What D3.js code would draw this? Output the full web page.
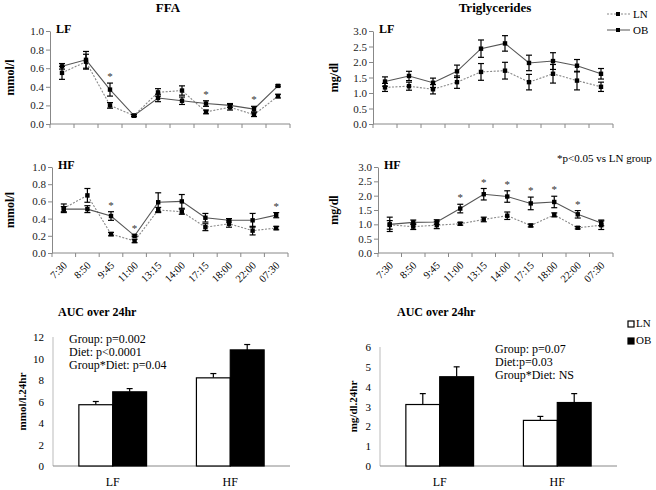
<!DOCTYPE html>
<html>
<head>
<meta charset="utf-8">
<script src="https://cdn.jsdelivr.net/npm/d3@7"></script>
<style>
  body { margin: 0; background: #fff; }
  svg { font-family: "Liberation Serif", "Times New Roman", serif; }
  .axis path, .axis line { stroke: #888; }
</style>
</head>
<body>
<svg width="656" height="490"></svg>
<script>
var svg = d3.select("svg");

// time points
var times = ["7:30", "8:50", "9:45", "11:00", "13:15", "14:00", "17:15", "18:00", "22:00", "07:30"];

// FFA, low fat diet
var ffaLF_OB = [0.62, 0.69, 0.37, 0.09, 0.28, 0.25, 0.22, 0.20, 0.16, 0.41];
var ffaLF_OBerr = [0.03, 0.09, 0.07, 0.01, 0.04, 0.04, 0.03, 0.02, 0.03, 0.01];
var ffaLF_LN = [0.55, 0.67, 0.20, 0.09, 0.34, 0.36, 0.13, 0.18, 0.10, 0.30];
var ffaLF_LNerr = [0.07, 0.08, 0.03, 0.01, 0.04, 0.05, 0.02, 0.03, 0.02, 0.02];
var ffaLF_sig = [2, 6, 8];

// FFA, high fat diet
var ffaHF_OB = [0.51, 0.51, 0.43, 0.20, 0.59, 0.60, 0.41, 0.38, 0.38, 0.44];
var ffaHF_OBerr = [0.03, 0.04, 0.05, 0.01, 0.11, 0.08, 0.05, 0.02, 0.08, 0.03];
var ffaHF_LN = [0.52, 0.67, 0.22, 0.14, 0.50, 0.48, 0.30, 0.34, 0.26, 0.29];
var ffaHF_LNerr = [0.05, 0.08, 0.02, 0.02, 0.03, 0.03, 0.04, 0.04, 0.05, 0.02];
var ffaHF_sig = [2, 3, 9];

// triglycerides, low fat diet
var tgLF_OB = [1.37, 1.55, 1.33, 1.70, 2.43, 2.60, 1.97, 2.03, 1.88, 1.62];
var tgLF_OBerr = [0.15, 0.15, 0.15, 0.20, 0.28, 0.25, 0.25, 0.27, 0.20, 0.17];
var tgLF_LN = [1.18, 1.22, 1.12, 1.35, 1.68, 1.72, 1.35, 1.62, 1.40, 1.20];
var tgLF_LNerr = [0.13, 0.13, 0.15, 0.20, 0.27, 0.27, 0.25, 0.30, 0.30, 0.15];

// triglycerides, high fat diet
var tgHF_OB = [1.00, 1.07, 1.08, 1.55, 2.05, 1.97, 1.73, 1.78, 1.35, 1.05];
var tgHF_OBerr = [0.25, 0.08, 0.08, 0.15, 0.20, 0.20, 0.22, 0.20, 0.13, 0.10];
var tgHF_LN = [0.98, 0.92, 0.97, 1.02, 1.17, 1.30, 0.96, 1.33, 0.88, 0.97];
var tgHF_LNerr = [0.15, 0.10, 0.12, 0.05, 0.08, 0.13, 0.05, 0.07, 0.04, 0.15];
var tgHF_sig = [3, 4, 5, 6, 7, 8];

// AUC bars
var diets = ["LF", "HF"];
var groups = ["LN", "OB"];
var aucFFA = [[5.7, 6.9], [8.2, 10.8]];
var aucFFAerr = [[0.3, 0.3], [0.4, 0.5]];
var aucTG = [[3.1, 4.5], [2.3, 3.2]];
var aucTGerr = [[0.55, 0.5], [0.2, 0.45]];

var LINE_OB = "#555";
var LINE_LN = "#888";
var SERIF = "'Liberation Serif', 'Times New Roman', serif";

function linePanel(p) {
  var g = svg.append("g");
  var x = d3.scaleBand().domain(times).range([p.x0, p.x1]);
  var y = d3.scaleLinear().domain([0, p.max]).range([p.yb, p.yt]);

  // y axis
  g.append("g").attr("class", "axis")
    .attr("transform", "translate(" + [p.x0, 0] + ")")
    .call(d3.axisLeft(y).tickValues(d3.range(0, p.max + 1e-9, p.step))
      .tickFormat(d3.format(".1f")).tickSize(4).tickSizeOuter(0))
    .attr("font-family", SERIF).attr("font-size", 11)
    .call(function(a) { a.selectAll("text").attr("x", -6).attr("fill", "#222"); });

  // x axis with ticks at band edges
  var xa = g.append("g").attr("class", "axis");
  xa.append("line").attr("x1", p.x0).attr("x2", p.x1).attr("y1", p.yb).attr("y2", p.yb);
  var edges = times.map(function(t) { return x(t); }).concat([p.x1]);
  xa.selectAll(".tk").data(edges).enter().append("line")
    .attr("x1", function(d) { return d; }).attr("x2", function(d) { return d; })
    .attr("y1", p.yb).attr("y2", p.yb + 4);

  if (p.labels) {
    g.selectAll(".tl").data(times).enter().append("text")
      .attr("text-anchor", "end")
      .style("font-size", "10.5px")
      .attr("transform", function(d) {
        return "translate(" + [x(d) + x.bandwidth() / 2 + 4, p.yb + 13] + ") rotate(-45)";
      })
      .text(function(d) { return d; });
  }

  var cx = function(d, i) { return x(times[i]) + x.bandwidth() / 2; };

  function series(vals, errs, color, dash) {
    var line = d3.line().x(function(d, i) { return cx(d, i); }).y(function(d) { return y(d); });
    g.append("path").datum(vals).attr("d", line)
      .attr("fill", "none").attr("stroke", color).attr("stroke-width", 1.1)
      .attr("stroke-dasharray", dash);
    var eb = g.append("g");
    vals.forEach(function(v, i) {
      var xx = cx(v, i);
      eb.append("line").attr("x1", xx).attr("x2", xx)
        .attr("y1", y(v - errs[i])).attr("y2", y(v + errs[i]))
        .attr("stroke", "#000").attr("stroke-width", 1.2);
      [v - errs[i], v + errs[i]].forEach(function(e) {
        eb.append("line").attr("x1", xx - 3).attr("x2", xx + 3)
          .attr("y1", y(e)).attr("y2", y(e))
          .attr("stroke", "#000").attr("stroke-width", 1.2);
      });
    });
    g.selectAll(null).data(vals).enter().append("rect")
      .attr("x", function(d, i) { return cx(d, i) - 2.2; })
      .attr("y", function(d) { return y(d) - 2.2; })
      .attr("width", 4.4).attr("height", 4.4).attr("fill", "#000");
  }
  series(p.ln, p.lnErr, LINE_LN, "2,1.5");
  series(p.ob, p.obErr, LINE_OB, null);

  (p.sig || []).forEach(function(i) {
    var top = Math.max(p.ob[i] + p.obErr[i], p.ln[i] + p.lnErr[i]);
    g.append("text").attr("x", cx(0, i)).attr("y", y(top) - 3)
      .attr("text-anchor", "middle").attr("fill", "#333").style("font-size", "11px").text("*");
  });

  g.append("text").attr("x", p.x0 + 6).attr("y", p.yt + 2)
    .style("font-size", "12px").style("font-weight", "bold").text(p.tag);

  g.append("text")
    .attr("transform", "translate(" + [p.ylx, (p.yt + p.yb) / 2] + ") rotate(-90)")
    .attr("text-anchor", "middle").style("font-size", "12px").style("font-weight", "bold")
    .text(p.ylabel);
}

linePanel({x0: 50, x1: 290, yt: 31, yb: 124, max: 1, step: 0.2, tag: "LF", ylabel: "mmol/l", ylx: 14,
  ob: ffaLF_OB, obErr: ffaLF_OBerr, ln: ffaLF_LN, lnErr: ffaLF_LNerr, sig: ffaLF_sig});
linePanel({x0: 52, x1: 288, yt: 167, yb: 253, max: 1, step: 0.2, tag: "HF", ylabel: "mmol/l", ylx: 14, labels: true,
  ob: ffaHF_OB, obErr: ffaHF_OBerr, ln: ffaHF_LN, lnErr: ffaHF_LNerr, sig: ffaHF_sig});
linePanel({x0: 373, x1: 613, yt: 31, yb: 124, max: 3, step: 0.5, tag: "LF", ylabel: "mg/dl", ylx: 338,
  ob: tgLF_OB, obErr: tgLF_OBerr, ln: tgLF_LN, lnErr: tgLF_LNerr});
linePanel({x0: 378, x1: 613, yt: 167, yb: 253, max: 3, step: 0.5, tag: "HF", ylabel: "mg/dl", ylx: 338, labels: true,
  ob: tgHF_OB, obErr: tgHF_OBerr, ln: tgHF_LN, lnErr: tgHF_LNerr, sig: tgHF_sig});

// titles
svg.append("text").attr("x", 168).attr("y", 12).attr("text-anchor", "middle")
  .style("font-size", "13px").style("font-weight", "bold").text("FFA");
svg.append("text").attr("x", 495).attr("y", 12).attr("text-anchor", "middle")
  .style("font-size", "13px").style("font-weight", "bold").text("Triglycerides");
svg.append("text").attr("x", 557).attr("y", 162)
  .style("font-size", "11px").text("*p<0.05 vs LN group");

// line legend
[["LN", LINE_LN, "2,1.5", 14], ["OB", LINE_OB, null, 30]].forEach(function(l) {
  svg.append("line").attr("x1", 607).attr("x2", 630).attr("y1", l[3]).attr("y2", l[3])
    .attr("stroke", l[1]).attr("stroke-dasharray", l[2]);
  svg.append("rect").attr("x", 616).attr("y", l[3] - 2).attr("width", 4).attr("height", 4).attr("fill", "#000");
  svg.append("text").attr("x", 633).attr("y", l[3] + 4).style("font-size", "11px").text(l[0]);
});

function barPanel(p) {
  var g = svg.append("g");
  var x = d3.scaleBand().domain(diets).range([p.x0, p.x1]).paddingInner(0.424).paddingOuter(0.22);
  var xg = d3.scaleBand().domain(groups).range([0, x.bandwidth()]);
  var y = d3.scaleLinear().domain([0, p.max]).range([p.yb, p.yt]);

  g.append("line").attr("x1", p.x0).attr("x2", p.x0).attr("y1", p.yb).attr("y2", p.yt)
    .attr("stroke", "#bbb");
  g.selectAll(".yt").data(d3.range(0, p.max + 1, p.step)).enter().append("text")
    .attr("x", p.x0 - 9).attr("y", function(d) { return y(d) + 4; })
    .attr("text-anchor", "end").style("font-size", "11px").text(function(d) { return d; });
  g.append("line").attr("x1", p.x0).attr("x2", p.x1).attr("y1", p.yb).attr("y2", p.yb)
    .attr("stroke", "#888");

  diets.forEach(function(dt, di) {
    groups.forEach(function(gr, gi) {
      var v = p.vals[di][gi], e = p.errs[di][gi];
      var bx = x(dt) + xg(gr);
      var mx = bx + xg.bandwidth() / 2;
      g.append("line").attr("x1", mx).attr("x2", mx).attr("y1", y(v)).attr("y2", y(v + e))
        .attr("stroke", "#000").attr("stroke-width", 1.2);
      g.append("line").attr("x1", mx - 3).attr("x2", mx + 3).attr("y1", y(v + e)).attr("y2", y(v + e))
        .attr("stroke", "#000").attr("stroke-width", 1.2);
      g.append("rect").attr("x", bx).attr("y", y(v))
        .attr("width", xg.bandwidth()).attr("height", y(0) - y(v))
        .attr("fill", gi === 0 ? "#fff" : "#000").attr("stroke", "#000").attr("stroke-width", 1.2);
    });
    g.append("text").attr("x", x(dt) + x.bandwidth() / 2).attr("y", p.yb + 20)
      .attr("text-anchor", "middle").style("font-size", "12px").text(dt);
  });

  g.append("text")
    .attr("transform", "translate(" + [p.ylx, (p.yt + p.yb) / 2] + ") rotate(-90)")
    .attr("text-anchor", "middle").style("font-size", "11px").style("font-weight", "bold")
    .text(p.ylabel);
  g.append("text").attr("x", p.tx).attr("y", 316)
    .style("font-size", "12px").style("font-weight", "bold").text("AUC over 24hr");
  p.notes.forEach(function(n, i) {
    g.append("text").attr("x", p.nx).attr("y", p.ny + i * 13)
      .style("font-size", "12px").text(n);
  });
}

barPanel({x0: 53, x1: 290, yt: 337, yb: 466, max: 12, step: 2, vals: aucFFA, errs: aucFFAerr,
  ylabel: "mmol/l.24hr", ylx: 26, tx: 58, nx: 69, ny: 343,
  notes: ["Group: p=0.002", "Diet: p<0.0001", "Group*Diet: p=0.04"]});
barPanel({x0: 380, x1: 617, yt: 347, yb: 466, max: 6, step: 1, vals: aucTG, errs: aucTGerr,
  ylabel: "mg/dl.24hr", ylx: 357, tx: 397, nx: 495, ny: 353,
  notes: ["Group: p=0.07", "Diet:p=0.03", "Group*Diet: NS"]});

// bar legend
[["LN", "#fff", 327], ["OB", "#000", 344]].forEach(function(l) {
  svg.append("rect").attr("x", 628).attr("y", l[2] - 6).attr("width", 6).attr("height", 6)
    .attr("fill", l[1]).attr("stroke", "#000").attr("stroke-width", 1.2);
  svg.append("text").attr("x", 636).attr("y", l[2]).style("font-size", "11px").text(l[0]);
});
</script>
</body>
</html>
